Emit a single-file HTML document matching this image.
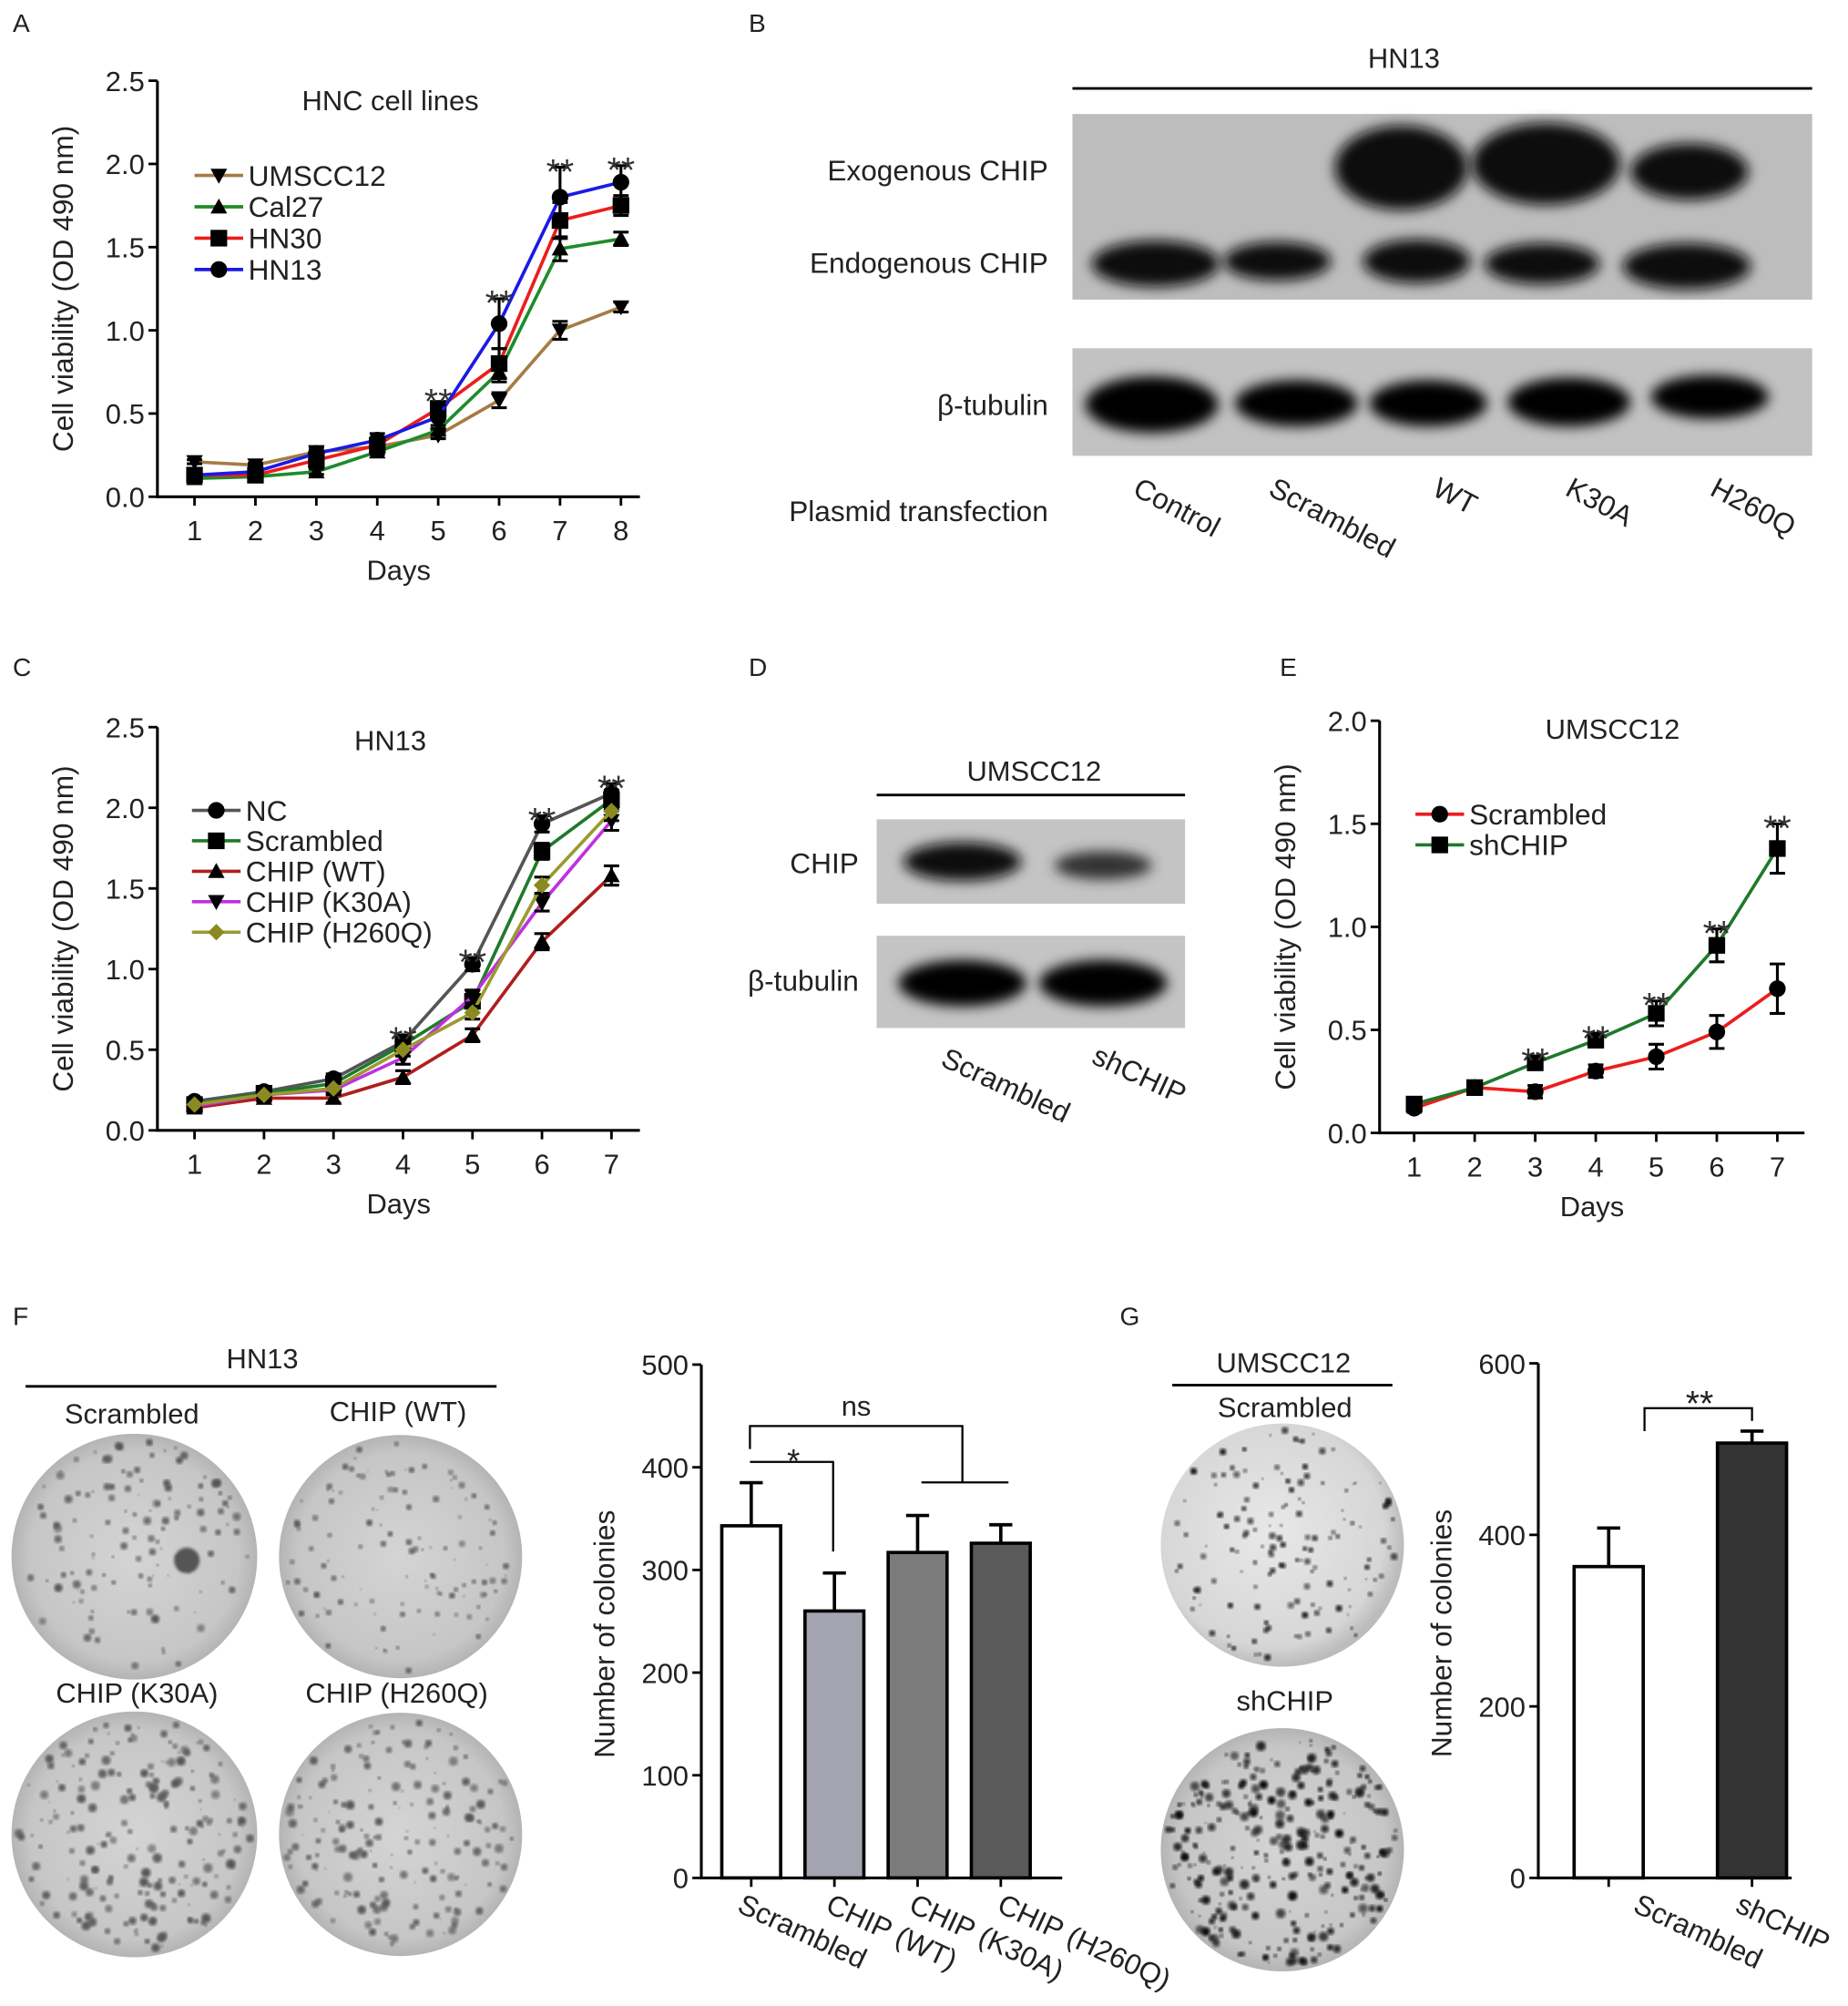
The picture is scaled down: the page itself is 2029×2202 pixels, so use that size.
<!DOCTYPE html>
<html><head><meta charset="utf-8"><style>
html,body{margin:0;padding:0;background:#fff}
svg{display:block;font-family:"Liberation Sans",Arial,sans-serif}
</style></head><body>
<svg id="fig" width="2029" height="2202" viewBox="0 0 1444 1567" xmlns="http://www.w3.org/2000/svg">
<defs>
<filter id="blur" x="-30%" y="-60%" width="160%" height="220%"><feGaussianBlur stdDeviation="5"/></filter>
<filter id="sblur"><feGaussianBlur stdDeviation="1.2"/></filter>
<radialGradient id="dish" cx="50%" cy="50%" r="50%"><stop offset="0" stop-color="#d4d4d4"/><stop offset="0.85" stop-color="#c6c6c6"/><stop offset="1" stop-color="#b4b4b4"/></radialGradient>
<radialGradient id="dish2" cx="45%" cy="45%" r="55%"><stop offset="0" stop-color="#e8e8e8"/><stop offset="0.85" stop-color="#d6d6d6"/><stop offset="1" stop-color="#bcbcbc"/></radialGradient>
</defs>
<g id="root" font-size="20" fill="#222"></g>
</svg>
<script>
// ---------- data ----------
const daysA = [1,2,3,4,5,6,7,8];
const seriesNamesA = ["UMSCC12","Cal27","HN30","HN13"];
const umscc12A = [0.21,0.19,0.27,0.30,0.37,0.58,1.00,1.14];
const cal27A = [0.11,0.12,0.15,0.27,0.40,0.75,1.49,1.55];
const hn30A = [0.13,0.13,0.22,0.31,0.53,0.80,1.66,1.75];
const hn13A = [0.13,0.15,0.26,0.34,0.48,1.04,1.80,1.89];
const errA = [0.04,0.04,0.04,0.04,0.07,0.15,0.18,0.10];
const yTicksA = ["0.0","0.5","1.0","1.5","2.0","2.5"];

const daysC = [1,2,3,4,5,6,7];
const seriesNamesC = ["NC","Scrambled","CHIP (WT)","CHIP (K30A)","CHIP (H260Q)"];
const ncC = [0.18,0.24,0.32,0.55,1.03,1.90,2.09];
const scrC = [0.16,0.23,0.29,0.53,0.80,1.73,2.05];
const wtC = [0.14,0.20,0.20,0.33,0.59,1.17,1.58];
const k30aC = [0.15,0.22,0.25,0.45,0.83,1.41,1.92];
const h260qC = [0.16,0.22,0.26,0.50,0.73,1.52,1.98];
const errC = [0.02,0.02,0.03,0.04,0.04,0.05,0.06];
const yTicksC = ["0.0","0.5","1.0","1.5","2.0","2.5"];

const daysE = [1,2,3,4,5,6,7];
const seriesNamesE = ["Scrambled","shCHIP"];
const scrE = [0.12,0.22,0.20,0.30,0.37,0.49,0.70];
const shE = [0.14,0.22,0.34,0.45,0.58,0.91,1.38];
const errE = [0.02,0.02,0.03,0.03,0.06,0.08,0.12];
const yTicksE = ["0.0","0.5","1.0","1.5","2.0"];

const catsF = ["Scrambled","CHIP (WT)","CHIP (K30A)","CHIP (H260Q)"];
const valsF = [343,260,317,326];
const errsF = [42,37,36,18];
const yTicksF = [0,100,200,300,400,500];

const catsG = ["Scrambled","shCHIP"];
const valsG = [363,507];
const errsG = [45,14];
const yTicksG = [0,200,400,600];

// ---------- helpers ----------
const NS="http://www.w3.org/2000/svg";
const root=document.getElementById('root');
function mk(tag,attrs,parent){const e=document.createElementNS(NS,tag);for(const k in attrs)e.setAttribute(k,attrs[k]);(parent||root).appendChild(e);return e;}
function txt(s,x,y,size,anchor,parent,extra){const t=mk('text',Object.assign({x:x,y:y,'font-size':size,'text-anchor':anchor||'start',fill:'#222'},extra||{}),parent);t.textContent=s;return t;}
function marker(g,type,x,y,c){
  const s=6.5;let e;
  if(type==='circle') e=mk('circle',{cx:x,cy:y,r:s,fill:'#000'},g);
  else if(type==='square') e=mk('rect',{x:x-s,y:y-s,width:2*s,height:2*s,fill:'#000'},g);
  else if(type==='tri') e=mk('polygon',{points:`${x-s},${y+s*0.8} ${x+s},${y+s*0.8} ${x},${y-s}`,fill:'#000'},g);
  else if(type==='tridown') e=mk('polygon',{points:`${x-s},${y-s*0.8} ${x+s},${y-s*0.8} ${x},${y+s}`,fill:'#000'},g);
  else if(type==='diamond') e=mk('polygon',{points:`${x},${y-s} ${x+s},${y} ${x},${y+s} ${x-s},${y}`,fill:c||'#000'},g);
  return e;
}

function lineChart(cfg){
  const g=mk('g',{});
  
  
  const X=d=>cfg.x0+(d-cfg.days[0])*cfg.dx;
  const Y=v=>cfg.y0-v*cfg.py;
  const ax=mk('path',{d:`M${cfg.ax},${Y(cfg.ymax)} V${cfg.y0} H${cfg.axEnd}`,stroke:'#000','stroke-width':2.2,fill:'none'},g);
  
  
  cfg.yTicks.forEach(t=>{const v=parseFloat(t);mk('line',{x1:cfg.ax-7,x2:cfg.ax,y1:Y(v),y2:Y(v),stroke:'#000','stroke-width':2},g);
    const l=txt(t,cfg.ax-10,Y(v)+8,22,'end',g);});
  cfg.days.forEach(d=>{mk('line',{x1:X(d),x2:X(d),y1:cfg.y0,y2:cfg.y0+7,stroke:'#000','stroke-width':2},g);
    const l=txt(String(d),X(d),cfg.y0+34,22,'middle',g);});
  const xt=txt('Days',(cfg.ax+cfg.axEnd)/2,cfg.y0+65,22,'middle',g);
  const yt=txt(cfg.ylabel,0,0,22.5,'middle',g,{transform:`translate(${cfg.ax-66},${(Y(cfg.ymax)+cfg.y0)/2}) rotate(-90)`});
  
  const tt=txt(cfg.title,cfg.titleX,cfg.titleY,22,'middle',g);
  cfg.series.forEach((s,si)=>{
    const sg=mk('g',{},g);
    
    
    const pts=s.vals.map((v,i)=>`${X(cfg.days[i])},${Y(v)}`).join(' ');
    mk('polyline',{points:pts,fill:'none',stroke:s.color,'stroke-width':2.6},sg);
    s.vals.forEach((v,i)=>{
      const e=cfg.err[i]*(s.errScale||1);const x=X(cfg.days[i]);
      mk('path',{d:`M${x},${Y(v+e)} V${Y(v-e)} M${x-6},${Y(v+e)} H${x+6} M${x-6},${Y(v-e)} H${x+6}`,stroke:'#000','stroke-width':2.2,fill:'none'},sg);
      const m=marker(sg,s.marker,x,Y(v),s.mcolor);
      
      
    });
    const ly=cfg.legY+si*cfg.legDy;
    const lg=mk('g',{},g);
    
    
    mk('line',{x1:cfg.legX,x2:cfg.legX+38,y1:ly,y2:ly,stroke:s.color,'stroke-width':2.6},lg);
    marker(lg,s.marker,cfg.legX+19,ly,s.mcolor);
    txt(s.label,cfg.legX+42,ly+8,22.5,'start',lg);
  });
  cfg.stars.forEach(d=>{
    const maxv=Math.max(...cfg.series.map(s=>s.vals[d-cfg.days[0]]));
    const e=cfg.err[d-cfg.days[0]];
    const st=txt('**',X(d),Y(maxv+e)+13,28,'middle',g,{fill:'#333'});
    
  });
  return g;
}

function barChart(cfg){
  const g=mk('g',{});
  
  
  const Y=v=>cfg.y0-v*cfg.py;
  const ymax=cfg.ticks[cfg.ticks.length-1];
  const ax=mk('path',{d:`M${cfg.ax},${Y(ymax)} V${cfg.y0} H${cfg.axEnd}`,stroke:'#000','stroke-width':2.2,fill:'none'},g);
  
  cfg.ticks.forEach(t=>{mk('line',{x1:cfg.ax-7,x2:cfg.ax,y1:Y(t),y2:Y(t),stroke:'#000','stroke-width':2},g);
    const l=txt(String(t),cfg.ax-10,Y(t)+8,22,'end',g);});
  const yt=txt('Number of colonies',0,0,22.5,'middle',g,{transform:`translate(${cfg.ax-68},${(Y(ymax)+cfg.y0)/2+10}) rotate(-90)`});
  
  cfg.cats.forEach((c,i)=>{
    const cx=cfg.c0+i*cfg.dc, v=cfg.vals[i], e=cfg.errs[i];
    const b=mk('rect',{x:cx-cfg.w/2,y:Y(v),width:cfg.w,height:cfg.y0-Y(v),fill:cfg.colors[i],stroke:'#000','stroke-width':2.6},g);
    
    
    mk('path',{d:`M${cx},${Y(v)} V${Y(v+e)} M${cx-9},${Y(v+e)} H${cx+9}`,stroke:'#000','stroke-width':2.6,fill:'none'},g);
    mk('line',{x1:cx,x2:cx,y1:cfg.y0,y2:cfg.y0+7,stroke:'#000','stroke-width':2},g);
    const lx=cx+cfg.lblDx[i], ly=cfg.y0+26;
    const l=txt(c,lx,ly,22.5,'start',g,{transform:`rotate(25 ${lx} ${ly})`});
    
  });
  return g;
}

// ---------- panel letters ----------
[['A',10,25],['B',585,25],['C',10,528],['D',585,528],['E',1000,528],['F',10,1035],['G',875,1035]].forEach(([l,x,y])=>{
  const t=txt(l,x,y,20,'start');});

// ---------- A ----------
lineChart({name:'chart-a-hnc-cell-lines',days:daysA,x0:152,dx:47.6,y0:388,py:130,ymax:2.5,ax:123,axEnd:500,
  yTicks:yTicksA,ylabel:'Cell viability (OD 490 nm)',title:'HNC cell lines',titleX:305,titleY:86,
  legX:152,legY:137,legDy:24.5,err:errA,stars:[5,6,7,8],
  series:[{label:seriesNamesA[0],vals:umscc12A,color:'#a57c45',marker:'tridown',errScale:0.3},
          {label:seriesNamesA[1],vals:cal27A,color:'#1e8c2a',marker:'tri',errScale:0.4},
          {label:seriesNamesA[2],vals:hn30A,color:'#ee1c1c',marker:'square',errScale:0.6},
          {label:seriesNamesA[3],vals:hn13A,color:'#1a1ae6',marker:'circle'}]});

// ---------- C ----------
lineChart({name:'chart-c-hn13',days:daysC,x0:152,dx:54.3,y0:883,py:126,ymax:2.5,ax:123,axEnd:500,
  yTicks:yTicksC,ylabel:'Cell viability (OD 490 nm)',title:'HN13',titleX:305,titleY:586,
  legX:150,legY:633,legDy:23.8,err:errC,stars:[4,5,6,7],
  series:[{label:seriesNamesC[0],vals:ncC,color:'#555',marker:'circle'},
          {label:seriesNamesC[1],vals:scrC,color:'#1e7a2a',marker:'square'},
          {label:seriesNamesC[2],vals:wtC,color:'#b01e1e',marker:'tri'},
          {label:seriesNamesC[3],vals:k30aC,color:'#c030e0',marker:'tridown',mcolor:'#c030e0'},
          {label:seriesNamesC[4],vals:h260qC,color:'#9a9a30',marker:'diamond',mcolor:'#8a8a20'}]});

// ---------- E ----------
lineChart({name:'chart-e-umscc12',days:daysE,x0:1105,dx:47.3,y0:885,py:161,ymax:2.0,ax:1078,axEnd:1410,
  yTicks:yTicksE,ylabel:'Cell viability    (OD 490 nm)',title:'UMSCC12',titleX:1260,titleY:577,
  legX:1106,legY:636,legDy:24,err:errE,stars:[3,4,5,6,7],
  series:[{label:seriesNamesE[0],vals:scrE,color:'#ee1c1c',marker:'circle'},
          {label:seriesNamesE[1],vals:shE,color:'#1e7a2a',marker:'square'}]});

// ---------- B blot ----------
(function(){
  const g=mk('g',{});
  txt('HN13',1097,53,22,'middle',g);
  mk('line',{x1:838,x2:1416,y1:69,y2:69,stroke:'#000','stroke-width':2},g);
  mk('rect',{x:838,y:89,width:578,height:145,fill:'#bdbdbd'},g);
  mk('rect',{x:838,y:272,width:578,height:84,fill:'#c2c2c2'},g);
  [[1095,131,52,33],[1208,128,58,32],[1320,134,46,22]].forEach(b=>mk('ellipse',{cx:b[0],cy:b[1],rx:b[2],ry:b[3],fill:'#111',filter:'url(#blur)'},g));
  [[903,206,50,18],[998,204,42,15],[1107,204,42,17],[1205,206,45,16],[1318,208,50,18]].forEach(b=>mk('ellipse',{cx:b[0],cy:b[1],rx:b[2],ry:b[3],fill:'#111',filter:'url(#blur)'},g));
  [[900,316,52,22],[1013,315,48,18],[1116,315,46,18],[1226,314,48,19],[1336,310,46,17]].forEach(b=>mk('ellipse',{cx:b[0],cy:b[1],rx:b[2],ry:b[3],fill:'#000',filter:'url(#blur)'},g));
  txt('Exogenous CHIP',819,141,22.5,'end',g);
  txt('Endogenous CHIP',819,213,22.5,'end',g);
  txt('β-tubulin',819,324,22.5,'end',g);
  txt('Plasmid transfection',819,407,22.5,'end',g);
  [['Control',884,386],['Scrambled',990,386],['WT',1118,386],['K30A',1222,386],['H260Q',1335,386]].forEach(([s,x,y])=>{
    const t=txt(s,x,y,22.5,'start',g,{transform:`rotate(28 ${x} ${y})`});});
})();

// ---------- D blot ----------
(function(){
  const g=mk('g',{});
  txt('UMSCC12',808,610,22,'middle',g);
  mk('line',{x1:685,x2:926,y1:621,y2:621,stroke:'#000','stroke-width':2},g);
  mk('rect',{x:685,y:640,width:241,height:66,fill:'#c4c4c4'},g);
  mk('rect',{x:685,y:731,width:241,height:72,fill:'#c4c4c4'},g);
  mk('ellipse',{cx:752,cy:673,rx:46,ry:15,fill:'#111',filter:'url(#blur)'},g);
  mk('ellipse',{cx:862,cy:676,rx:38,ry:11,fill:'#333',filter:'url(#blur)'},g);
  mk('ellipse',{cx:752,cy:768,rx:50,ry:18,fill:'#000',filter:'url(#blur)'},g);
  mk('ellipse',{cx:862,cy:768,rx:50,ry:18,fill:'#000',filter:'url(#blur)'},g);
  txt('CHIP',671,682,22.5,'end',g);
  txt('β-tubulin',671,774,22.5,'end',g);
  txt('Scrambled',734,832,22.5,'start',g,{transform:'rotate(25 734 832)'});
  txt('shCHIP',852,830,22.5,'start',g,{transform:'rotate(25 852 830)'});
})();

// ---------- colony dishes ----------
let seed=7;function rnd(){seed=(seed*16807)%2147483647;return seed/2147483647;}
function dish(cx,cy,r,n,maxr,grad,name,dark){
  const g=mk('g',{});
  mk('circle',{cx:cx,cy:cy,r:r,fill:'url(#'+grad+')'},g);
  for(let i=0;i<n;i++){const a=rnd()*Math.PI*2,d=Math.sqrt(rnd())*(r-4);
    mk('circle',{cx:cx+Math.cos(a)*d,cy:cy+Math.sin(a)*d,r:0.8+rnd()*maxr,fill:dark?'#111':'#555','fill-opacity':0.6+rnd()*0.4,filter:'url(#sblur)'},g);}
  return g;
}
(function(){
  const g=mk('g',{});
  txt('HN13',205,1069,22,'middle',g);
  mk('line',{x1:20,x2:388,y1:1083,y2:1083,stroke:'#000','stroke-width':2},g);
  txt('Scrambled',103,1112,22,'middle',g);txt('CHIP (WT)',311,1110,22,'middle',g);
  txt('CHIP (K30A)',107,1330,22,'middle',g);txt('CHIP (H260Q)',310,1330,22,'middle',g);
})();
dish(105,1216,96,130,2.6,'dish','dish-scrambled',false);
mk('circle',{cx:146,cy:1219,r:10,fill:'#555',filter:'url(#sblur)'});
dish(313,1216,95,120,1.8,'dish','dish-chip-wt',false);
dish(105,1433,96,200,3.0,'dish','dish-chip-k30a',false);
dish(313,1433,95,180,2.8,'dish','dish-chip-h260q',false);
(function(){
  const g=mk('g',{});
  txt('UMSCC12',1003,1072,22,'middle',g);
  mk('line',{x1:916,x2:1088,y1:1082,y2:1082,stroke:'#000','stroke-width':2},g);
  txt('Scrambled',1004,1107,22,'middle',g);txt('shCHIP',1004,1336,22,'middle',g);
})();
dish(1002,1207,95,140,2.0,'dish2','dish-g-scrambled',true);
dish(1002,1445,95,300,3.0,'dish','dish-g-shchip',true);

// ---------- F bar chart ----------
barChart({name:'bar-chart-f',cats:catsF,vals:valsF,errs:errsF,ticks:yTicksF,y0:1467,py:0.802,ax:548,axEnd:830,
  c0:587,dc:65,w:46,colors:['#ffffff','#a4a4b0','#7b7b7b','#5a5a5a'],lblDx:[-12,-8,-8,-4]});
(function(){
  const g=mk('g',{});
  mk('path',{d:'M586,1132 V1114 H752 V1158 M720,1158 H788',stroke:'#000','stroke-width':1.6,fill:'none'},g);
  mk('path',{d:'M586,1142 H651 V1212',stroke:'#000','stroke-width':1.6,fill:'none'},g);
  txt('ns',669,1106,22,'middle',g);txt('*',620,1150,26,'middle',g);
})();

// ---------- G bar chart ----------
barChart({name:'bar-chart-g',cats:catsG,vals:valsG,errs:errsG,ticks:yTicksG,y0:1467,py:0.67,ax:1202,axEnd:1400,
  c0:1257,dc:112,w:54,colors:['#ffffff','#333333'],lblDx:[18,-14]});
(function(){
  const g=mk('g',{});
  mk('path',{d:'M1285,1118 V1100 H1369 V1110',stroke:'#000','stroke-width':1.6,fill:'none'},g);
  txt('**',1328,1106,28,'middle',g);
})();
</script>
</body></html>
